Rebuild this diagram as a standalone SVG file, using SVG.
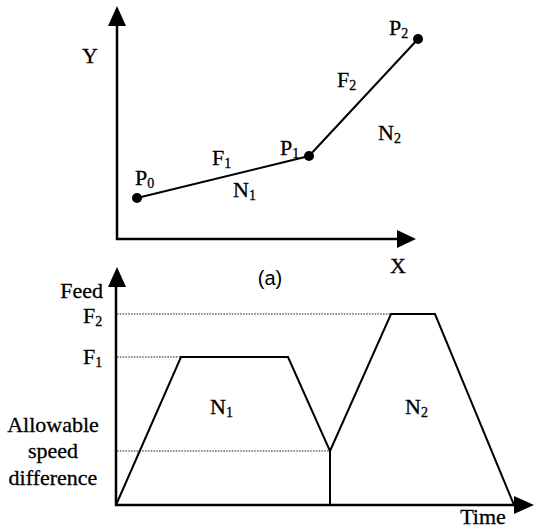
<svg xmlns="http://www.w3.org/2000/svg" width="534" height="530" viewBox="0 0 534 530">
<style>
.t{font-family:"Liberation Serif","Times New Roman",serif;font-size:22px;fill:#000;stroke:#000;stroke-width:0.3}
.s{font-size:14px}
.a{font-family:"Liberation Sans",Arial,sans-serif;font-size:20px;fill:#000}
.ax{stroke:#000;stroke-width:2.5;fill:none}
.ln{stroke:#000;stroke-width:2;fill:none;stroke-linejoin:miter}
.dt{stroke:#222;stroke-width:1.2;stroke-dasharray:1.6 1.2;fill:none}
.hd{fill:#000}
.pt{fill:#000}
</style>
<rect width="534" height="530" fill="#fff"/>

<g id="plot-a-axes">
  <path class="ax" d="M117,24 V239 H400"/>
  <polygon class="hd" points="117,6 108,26 126,26"/>
  <polygon class="hd" points="416,239 397,230 397,248"/>
  <text class="t" x="90" y="63" text-anchor="middle">Y</text>
  <text class="t" x="398" y="273" text-anchor="middle">X</text>
  <text class="a" x="270" y="285" text-anchor="middle">(a)</text>
</g>

<g id="connectors">
  <polyline class="ln" points="137,198 309,156 418,39"/>
</g>

<g id="P0">
  <circle class="pt" cx="137" cy="198" r="5"/>
  <text class="t" x="135" y="185">P<tspan class="s" dy="3">0</tspan></text>
</g>
<g id="P1">
  <circle class="pt" cx="309" cy="156" r="5"/>
  <text class="t" x="280" y="155">P<tspan class="s" dy="3">1</tspan></text>
</g>
<g id="P2">
  <circle class="pt" cx="418" cy="39" r="5"/>
  <text class="t" x="389" y="35">P<tspan class="s" dy="3">2</tspan></text>
</g>
<g id="seg1-labels">
  <text class="t" x="212" y="165">F<tspan class="s" dy="3">1</tspan></text>
  <text class="t" x="233" y="197">N<tspan class="s" dy="3">1</tspan></text>
</g>
<g id="seg2-labels">
  <text class="t" x="337" y="87">F<tspan class="s" dy="3">2</tspan></text>
  <text class="t" x="378" y="140">N<tspan class="s" dy="3">2</tspan></text>
</g>

<g id="plot-b-axes">
  <path class="ax" d="M116,284 V505 H516"/>
  <polygon class="hd" points="117,267 108,287 126,287"/>
  <polygon class="hd" points="534,505 514,496 514,514"/>
  <text class="t" x="103" y="298" text-anchor="end">Feed</text>
  <text class="t" x="483" y="524" text-anchor="middle">Time</text>
</g>

<g id="levels">
  <line class="dt" x1="117" y1="314" x2="391" y2="314"/>
  <line class="dt" x1="117" y1="357" x2="181" y2="357"/>
  <line class="dt" x1="117" y1="451" x2="330" y2="451"/>
  <text class="t" x="83" y="323">F<tspan class="s" dy="3">2</tspan></text>
  <text class="t" x="83" y="364">F<tspan class="s" dy="3">1</tspan></text>
  <text class="t" x="53" y="432" text-anchor="middle">Allowable</text>
  <text class="t" x="53" y="458" text-anchor="middle">speed</text>
  <text class="t" x="53" y="485" text-anchor="middle">difference</text>
</g>

<g id="N1-profile">
  <polyline class="ln" points="116,505 181,357 288,357 330,451 330,505"/>
  <text class="t" x="210" y="414">N<tspan class="s" dy="3">1</tspan></text>
</g>
<g id="N2-profile">
  <polyline class="ln" points="330,451 391,314 435,314 514,505"/>
  <text class="t" x="405" y="414">N<tspan class="s" dy="3">2</tspan></text>
</g>
</svg>
